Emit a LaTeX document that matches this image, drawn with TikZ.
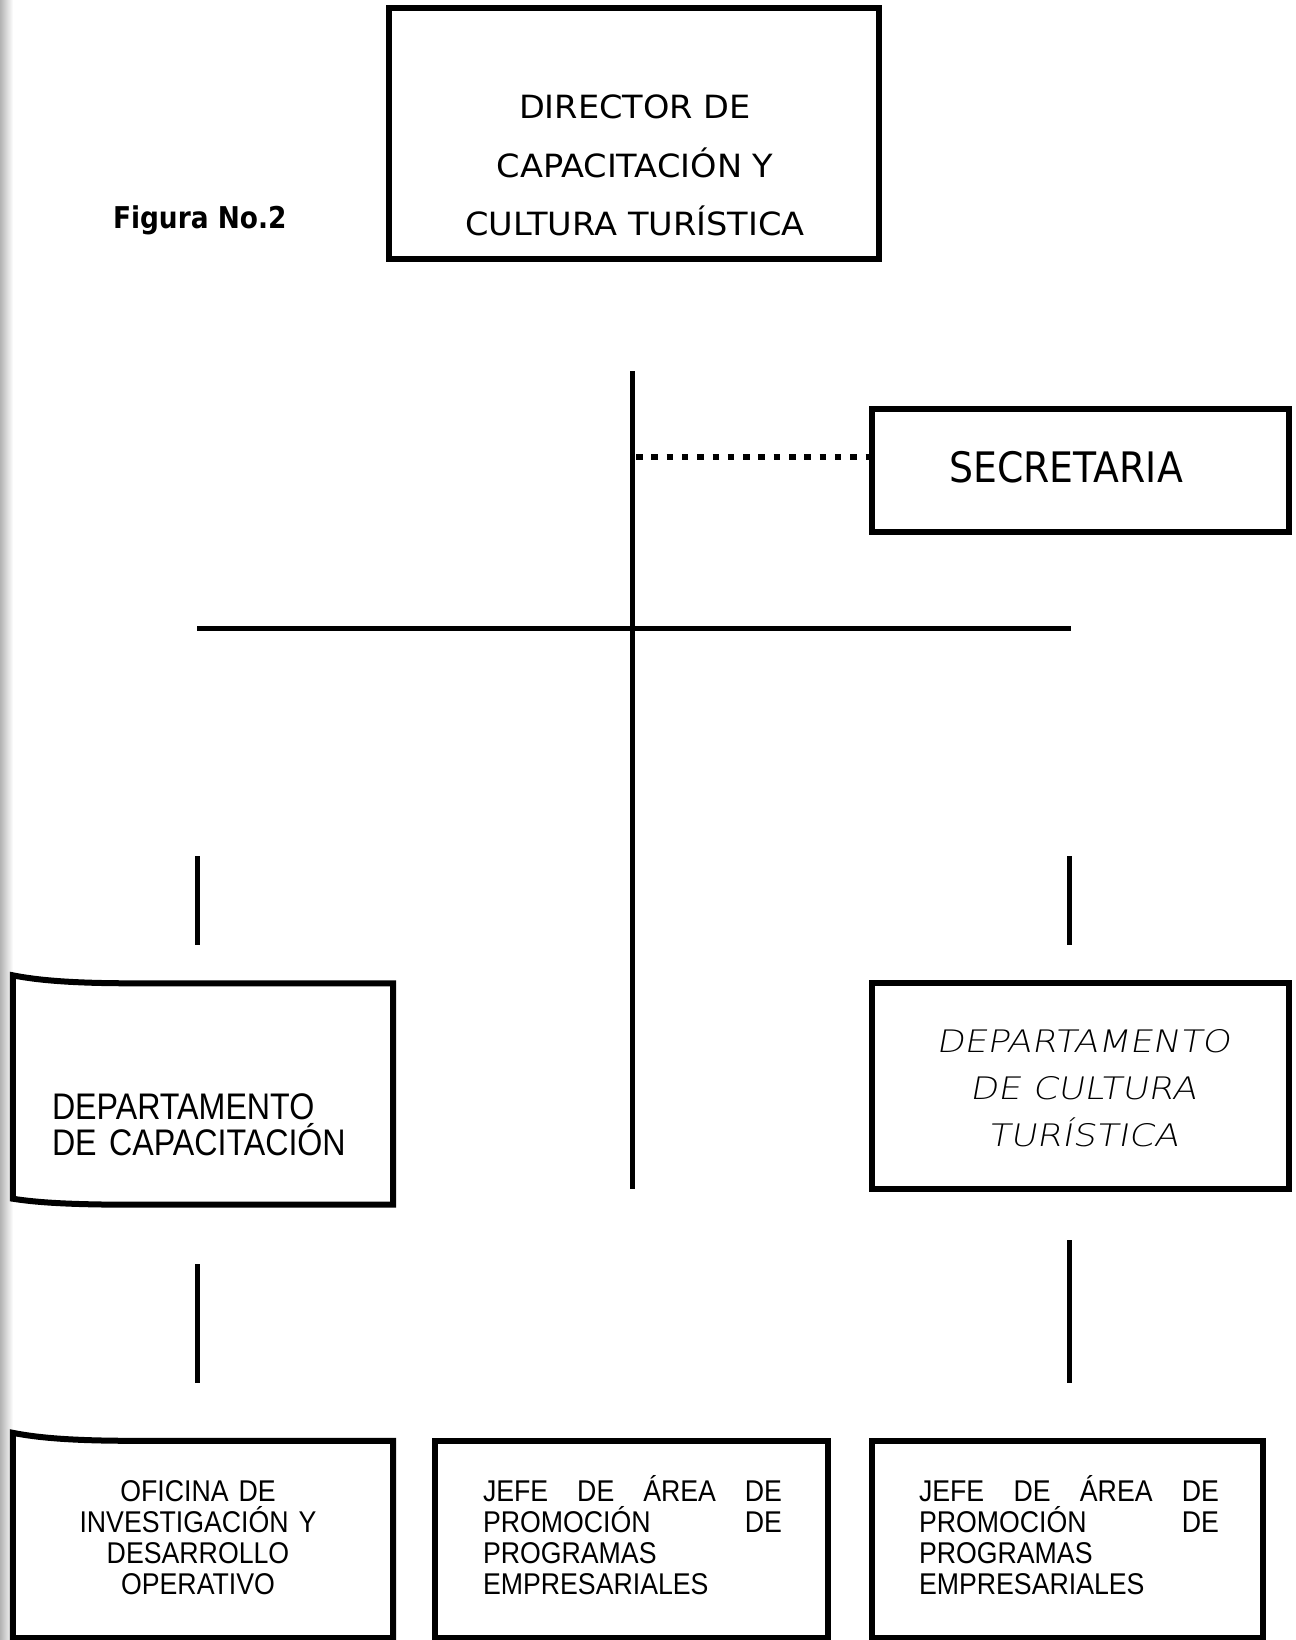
\documentclass[tikz,border=0pt]{standalone}
\usepackage{fontspec}
\setmainfont{DejaVu Sans}
\newfontfamily\dirf[FakeStretch=1.05]{DejaVu Sans}
\newfontfamily\figf[FakeStretch=0.88]{DejaVu Sans Bold}
\newfontfamily\secf[FakeStretch=0.9]{DejaVu Sans}
\newfontfamily\armid[FakeStretch=0.87]{Liberation Sans}
\newfontfamily\arsmall[FakeStretch=0.89]{Liberation Sans}
\newfontfamily\handf[FakeSlant=0.18,FakeStretch=1.17]{DejaVu Sans ExtraLight}
\usetikzlibrary{calc}
\tikzset{
  boxline/.style={line width=6pt, line join=miter},
  framebox/.style={draw, line width=6pt, rectangle, inner sep=0pt},
  emptybox/.style={draw=none, rectangle, inner sep=0pt},
  conn/.style={line width=5pt},
  dotline/.style={line width=6.5pt, dash pattern=on 6.5pt off 8.8pt},
  txt/.style={inner sep=0pt, outer sep=0pt}
}
\begin{document}
\begin{tikzpicture}[x=1pt,y=-1pt]
\useasboundingbox (0,0) rectangle (1295,1640);
\fill[white] (0,0) rectangle (1295,1640);
\shade[left color=black!30, right color=white] (0,0) rectangle (13,1640);

% Director
\node[framebox, minimum width=490pt, minimum height=251pt] (dir) at (634,133.5) {};
\node[txt, align=center, font={\dirf\fontsize{32}{58.5}\selectfont}] (dirtxt) at (635,165.5) {DIRECTOR DE\\CAPACITACIÓN Y\\CULTURA TURÍSTICA};

\node[txt, font={\figf\fontsize{30}{32}\selectfont}, anchor=base west] (fig) at (113,229) {Figura No.2};

% Secretaria
\node[framebox, minimum width=417pt, minimum height=123pt] (sec) at (1080.5,470.5) {};
\node[txt, font={\secf\fontsize{42}{46}\selectfont}] (sectxt) at (1066,467.5) {SECRETARIA};

% main lines
\coordinate (vtop) at (632,371);
\coordinate (vbot) at (632,1189);
\draw[conn] (vtop) -- (vbot);
\coordinate (dotstart) at (636,457);
\draw[dotline] (dotstart) -- (sec.west |- dotstart);
\coordinate (hl) at (197,628);
\coordinate (hr) at (1071,628);
\draw[conn] (hl) -- (hr);

\coordinate (l1a) at (197,856);
\coordinate (l1b) at (197,945);
\draw[conn] (l1a) -- (l1b);
\coordinate (r1a) at (1069,856);
\coordinate (r1b) at (1069,945);
\draw[conn] (r1a) -- (r1b);

% Departamento de capacitacion (curled page corner)
\node[emptybox, minimum width=380pt, minimum height=221pt] (dcap) at (203,1094) {};
\draw[boxline] (dcap.north east) -- ($(dcap.north west)+(120,0)$)
   .. controls ($(dcap.north west)+(60,0)$) and ($(dcap.north west)+(25,-3)$) .. ($(dcap.north west)+(0,-8)$)
   -- ($(dcap.south west)+(0,-6)$)
   .. controls ($(dcap.south west)+(25,-2)$) and ($(dcap.south west)+(60,0)$) .. ($(dcap.south west)+(120,0)$)
   -- (dcap.south east) -- cycle;
\node[txt, align=left, anchor=base west, text width=320pt, font={\armid\fontsize{37}{36}\selectfont}] (dcaptxt) at (52,1119) {DEPARTAMENTO\\DE CAPACITACIÓN};

% Departamento de cultura turistica
\node[framebox, minimum width=417pt, minimum height=206pt] (dcul) at (1080.5,1086) {};
\node[txt, align=center, font={\handf\fontsize{31}{47}\selectfont}] (dcultxt) at (1083,1088) {DEPARTAMENTO\\DE CULTURA\\TURÍSTICA};

\coordinate (l2a) at (197,1264);
\coordinate (l2b) at (197,1383);
\draw[conn] (l2a) -- (l2b);
\coordinate (r2a) at (1069,1240);
\coordinate (r2b) at (1069,1383);
\draw[conn] (r2a) -- (r2b);

% bottom boxes
\node[emptybox, minimum width=380pt, minimum height=197pt] (ofi) at (203,1539.5) {};
\draw[boxline] (ofi.north east) -- ($(ofi.north west)+(120,0)$)
   .. controls ($(ofi.north west)+(60,0)$) and ($(ofi.north west)+(25,-3)$) .. ($(ofi.north west)+(0,-8)$)
   -- (ofi.south west) -- (ofi.south east) -- cycle;
\node[txt, align=center, anchor=base, text width=300pt, font={\arsmall\fontsize{30}{31}\selectfont}] (ofitxt) at (198,1501.5) {OFICINA DE\\INVESTIGACIÓN Y\\DESARROLLO\\OPERATIVO};

\node[framebox, minimum width=393pt, minimum height=197pt] (jefe1) at (631.5,1539.5) {};
\node[txt, align=left, anchor=base west, text width=299pt, font={\arsmall\fontsize{30}{31}\selectfont}] (jefe1txt) at (483,1501.5)
  {\makebox[299pt][s]{JEFE\hfill DE\hfill ÁREA\hfill DE}\\\makebox[299pt][s]{PROMOCIÓN\hfill DE}\\PROGRAMAS\\EMPRESARIALES};

\node[framebox, minimum width=391pt, minimum height=197pt] (jefe2) at (1067.5,1539.5) {};
\node[txt, align=left, anchor=base west, text width=300pt, font={\arsmall\fontsize{30}{31}\selectfont}] (jefe2txt) at (919,1501.5)
  {\makebox[300pt][s]{JEFE\hfill DE\hfill ÁREA\hfill DE}\\\makebox[300pt][s]{PROMOCIÓN\hfill DE}\\PROGRAMAS\\EMPRESARIALES};
\end{tikzpicture}
\end{document}
